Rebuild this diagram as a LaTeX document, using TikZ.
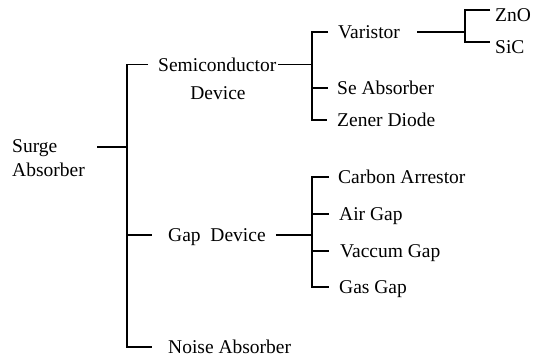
\documentclass[tikz,border=0pt]{standalone}
\usepackage{fontspec}
\setmainfont{Liberation Serif}
\begin{document}
\begin{tikzpicture}[x=1pt,y=-1pt,
  lbl/.style={font=\fontsize{19.5}{22}\selectfont, inner xsep=0pt, inner ysep=0pt,
    text height=13.5pt, text depth=0pt, anchor=west},
  ln/.style={line width=1.4pt}]
\useasboundingbox (0,0) rectangle (543,360);
% text
\node[lbl] (surge) at (12,146) {Surge};
\node[lbl] (absorb) at (12,170) {Absorber};
\node[lbl] (semi) at (158,64.5) {Semiconductor};
\node[lbl,anchor=center] (dev) at (218,93) {Device};
\node[lbl] (gapdev) at (168,235) {Gap\ \ Device};
\node[lbl] (noise) at (168,347) {Noise Absorber};
\node[lbl] (var) at (338,32) {Varistor};
\node[lbl] (se) at (337,88) {Se Absorber};
\node[lbl] (zener) at (337,120) {Zener Diode};
\node[lbl] (zno) at (495,14.5) {ZnO};
\node[lbl] (sic) at (495,46.5) {SiC};
\node[lbl] (carbon) at (338,177) {Carbon Arrestor};
\node[lbl] (air) at (339,214) {Air Gap};
\node[lbl] (vac) at (340,251) {Vaccum Gap};
\node[lbl] (gas) at (339,287) {Gas Gap};
% junctions
\coordinate (r) at (127,147);
\coordinate (sv) at (312,64.5);
\coordinate (vj) at (465,32);
\coordinate (gv) at (312,235);
\coordinate (znot) at ([shift={(-5pt,4.5pt)}]zno.west);
\coordinate (sict) at ([shift={(-5pt,4.5pt)}]sic.west);
% root level
\draw[ln] (97,147) -- (r);
\draw[ln] ([xshift=-10pt]semi.west) -| (r |- noise.west) -- ([xshift=-16pt]noise.west);
\draw[ln] (r |- gapdev.west) -- ([xshift=-16pt]gapdev.west);
% semiconductor
\draw[ln] ([xshift=2pt]semi.east) -- (sv);
\draw[ln] ([xshift=-10pt]var.west) -| (sv |- zener.west) -- ([xshift=-10pt]zener.west);
\draw[ln] (sv |- se.west) -- ([xshift=-9pt]se.west);
% varistor
\draw[ln] ([xshift=17pt]var.east) -- (vj);
\draw[ln] (znot) -| (vj |- sict) -- (sict);
% gap
\draw[ln] ([xshift=10pt]gapdev.east) -- (gv);
\draw[ln] ([xshift=-9pt]carbon.west) -| (gv |- gas.west) -- ([xshift=-10pt]gas.west);
\draw[ln] (gv |- air.west) -- ([xshift=-10pt]air.west);
\draw[ln] (gv |- vac.west) -- ([xshift=-11pt]vac.west);
\end{tikzpicture}
\end{document}
